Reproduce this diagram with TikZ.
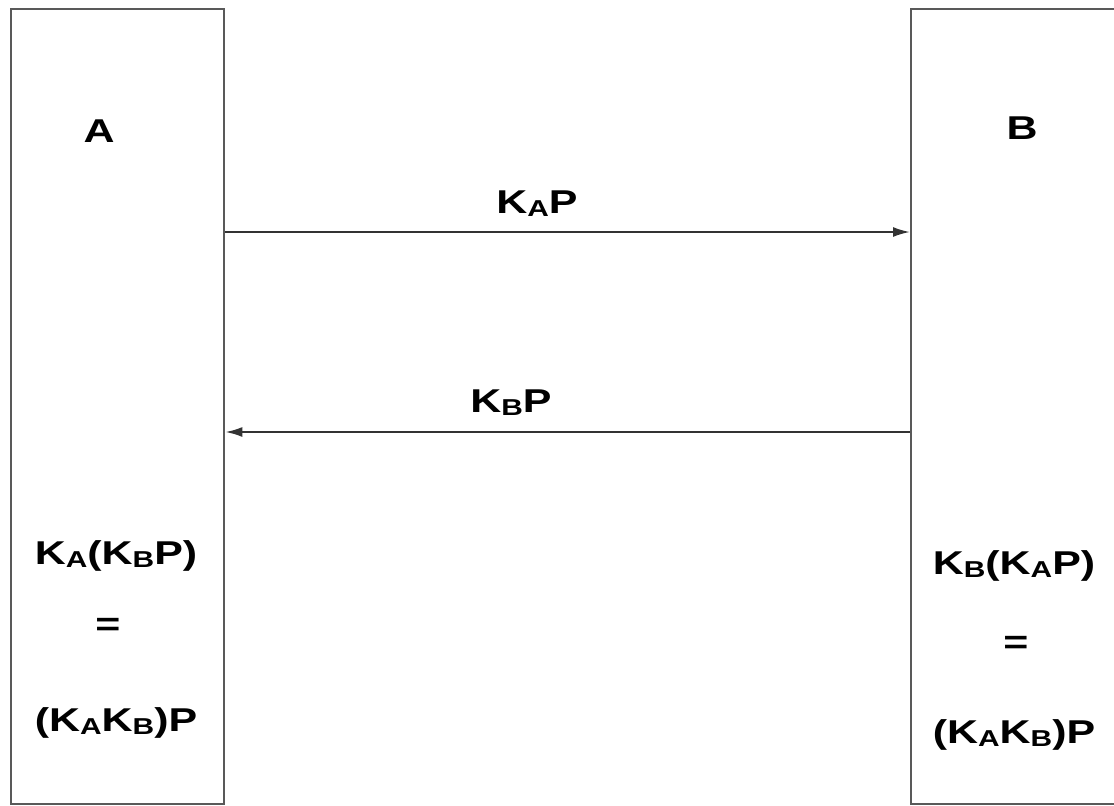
\documentclass[tikz,border=0pt]{standalone}
\usepackage{fontspec}
\setmainfont{Liberation Sans}
\usetikzlibrary{arrows.meta}
% label fonts: bold sans, slightly widened
\newcommand\lblfont{\fontsize{33}{38}\selectfont\bfseries}
\newcommand\sbs[1]{\raisebox{-3pt}{\fontsize{23}{27}\selectfont\bfseries #1}}
\newcommand\wide[1]{\scalebox{1.3}[1]{#1}}
\tikzset{
  party/.style={draw=black!65, line width=2.4pt, fill=none, inner sep=0pt, anchor=north west},
  msg/.style={draw=black!80, line width=2pt, -{Latex[length=17pt,width=10pt]}},
  lbl/.style={inner sep=0pt, anchor=base, font=\lblfont}
}
\begin{document}
\begin{tikzpicture}[x=1pt,y=-1pt]
  \useasboundingbox (0,0) rectangle (1114,806);
  \clip (0,0) rectangle (1114,806);
  \fill[white] (0,0) rectangle (1114,806);

  % the two parties
  \node[party, minimum width=213pt, minimum height=795pt] (boxA) at (10,8) {};
  \node[party, minimum width=260pt, minimum height=795pt] (boxB) at (910,8) {};

  % party names
  \node[lbl] (nameA) at (99,142) {\wide{A}};
  \node[lbl] (nameB) at (1022,139) {\wide{B}};

  % exchanged messages
  \coordinate (m1) at (0,232);
  \coordinate (m2) at (0,432);
  \draw[msg] (boxA.east |- m1) -- (boxB.west |- m1);
  \draw[msg] (boxB.west |- m2) -- (boxA.east |- m2);
  \node[lbl] (lab1) at (537,213) {\wide{K\sbs{A}P}};
  \node[lbl] (lab2) at (511,412) {\wide{K\sbs{B}P}};

  % shared results
  \node[lbl] (resA1) at (116,564) {\wide{K\sbs{A}(K\sbs{B}P)}};
  \node[lbl] (resA2) at (108,635) {\wide{=}};
  \node[lbl] (resA3) at (116,731) {\wide{(K\sbs{A}K\sbs{B})P}};
  \node[lbl] (resB1) at (1014,574) {\wide{K\sbs{B}(K\sbs{A}P)}};
  \node[lbl] (resB2) at (1016,653) {\wide{=}};
  \node[lbl] (resB3) at (1014,743) {\wide{(K\sbs{A}K\sbs{B})P}};
\end{tikzpicture}
\end{document}
